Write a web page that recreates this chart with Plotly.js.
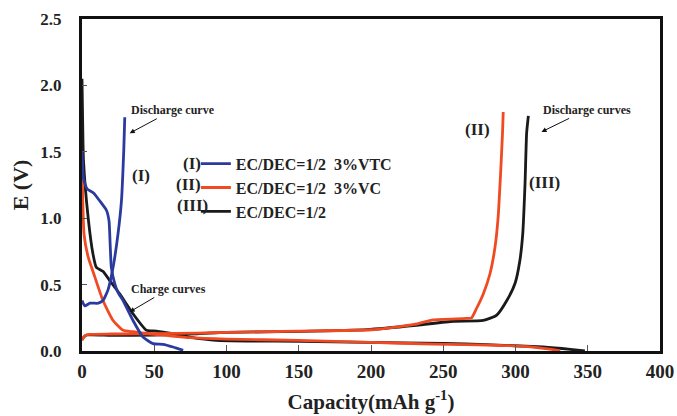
<!DOCTYPE html>
<html>
<head>
<meta charset="utf-8">
<script src="https://cdn.plot.ly/plotly-3.0.1.min.js"></script>
<style>html,body{margin:0;padding:0;background:#fff;}#chart{width:677px;height:416px;}</style>
</head>
<body>
<div id="chart"></div>
<script>
// ---- Data ----
// (I) EC/DEC=1/2 3%VTC
const capI_charge = [0, 1, 3.5, 8, 12.3, 16.9, 18.7, 19.5, 20.3, 22.6, 25, 28.4, 35.3, 42.2, 49.2, 56, 63, 70];
const eI_charge   = [1.50, 1.30, 1.22, 1.19, 1.13, 1.06, 0.98, 0.80, 0.63, 0.51, 0.44, 0.38, 0.23, 0.105, 0.055, 0.05, 0.03, 0.005];
const capI_dis = [0, 1.9, 5.5, 11.3, 14.5, 18, 21.5, 24.9, 27.3, 28.9, 29.6];
const eI_dis   = [0.38, 0.34, 0.36, 0.36, 0.38, 0.46, 0.63, 0.88, 1.13, 1.51, 1.76];

// (II) EC/DEC=1/2 3%VC
const capII_charge = [0, 1.4, 4.2, 8.8, 14.5, 21.5, 28.4, 35.3, 46.9, 60, 75, 100, 150, 200, 243, 289, 312, 325, 331];
const eII_charge   = [1.43, 0.88, 0.71, 0.56, 0.38, 0.23, 0.156, 0.145, 0.13, 0.115, 0.10, 0.09, 0.08, 0.065, 0.052, 0.043, 0.03, 0.012, 0];
const capII_dis = [0, 2, 5, 20, 50, 80, 100, 150, 200, 230, 243, 266, 269.6, 273, 277.7, 282.3, 285.8, 288, 289.7, 291, 291.5];
const eII_dis   = [0.08, 0.115, 0.125, 0.128, 0.13, 0.135, 0.14, 0.15, 0.16, 0.2, 0.235, 0.245, 0.25, 0.32, 0.43, 0.58, 0.78, 1.01, 1.34, 1.64, 1.80];

// (III) EC/DEC=1/2
const capIII_charge = [0, 0.5, 1, 4.2, 7.6, 9.9, 14.5, 19.2, 26.1, 35.3, 44.6, 51.5, 63, 74.6, 93, 116, 151, 197, 250, 280, 319, 338, 348];
const eIII_charge   = [2.05, 1.7, 1.44, 1.01, 0.73, 0.63, 0.60, 0.53, 0.43, 0.28, 0.156, 0.15, 0.13, 0.105, 0.08, 0.075, 0.073, 0.065, 0.057, 0.048, 0.03, 0.012, 0];
const capIII_dis = [0, 3.2, 20, 50, 80, 100, 151, 197, 231.6, 257, 277.7, 287, 294, 299.7, 303, 305, 306.6, 307.7, 308.9];
const eIII_dis   = [0.09, 0.12, 0.118, 0.12, 0.13, 0.14, 0.148, 0.161, 0.194, 0.224, 0.23, 0.27, 0.38, 0.51, 0.68, 0.88, 1.26, 1.64, 1.77];

const seriesNames = ['EC/DEC=1/2\u00a0\u00a03%VTC', 'EC/DEC=1/2\u00a0\u00a03%VC', 'EC/DEC=1/2'];
const seriesTags = ['(I)', '(II)', '(III)'];
const xTicks = [0, 50, 100, 150, 200, 250, 300, 350, 400];
const yTicks = [0.0, 0.5, 1.0, 1.5, 2.0, 2.5];

// ---- Styling ----
const colors = ['#2b3a9e', '#f04a22', '#1a1a1a'];
const serif = 'Times New Roman, Liberation Serif, serif';
const lw = 2.8;

function tr(x, y, i, show, rank) {
  return {x: x, y: y, type: 'scatter', mode: 'lines', name: seriesNames[i],
    legendgroup: 'g' + i, showlegend: show, legendrank: rank,
    line: {color: colors[i], width: lw, shape: 'spline', smoothing: 0.5}};
}

const data = [
  tr(capIII_charge, eIII_charge, 2, true, 3),
  tr(capIII_dis, eIII_dis, 2, false, 3),
  tr(capII_charge, eII_charge, 1, true, 2),
  tr(capII_dis, eII_dis, 1, false, 2),
  tr(capI_charge, eI_charge, 0, true, 1),
  tr(capI_dis, eI_dis, 0, false, 1),
];

const annFont = {family: serif, size: 12, color: '#222', weight: 'bold'};
const tagFont = {family: serif, size: 17, color: '#222', weight: 'bold'};
const arrowStyle = {showarrow: true, arrowhead: 2, arrowsize: 1, arrowwidth: 1, arrowcolor: '#111', standoff: 0, font: annFont};

const annotations = [
  Object.assign({x: 33, y: 1.64, text: 'Discharge curve', ax: 43, ay: -23}, arrowStyle),
  Object.assign({x: 33, y: 0.294, text: 'Charge curves', ax: 39, ay: -23}, arrowStyle),
  Object.assign({x: 318, y: 1.65, text: 'Discharge curves', ax: 45, ay: -22}, arrowStyle),
  {x: 41, y: 1.318, text: seriesTags[0], showarrow: false, font: tagFont},
  {x: 273.7, y: 1.67, text: seriesTags[1], showarrow: false, font: tagFont},
  {x: 320, y: 1.27, text: seriesTags[2], showarrow: false, font: tagFont},
  {x: 83.6, y: 1.413, text: seriesTags[0], showarrow: false, xanchor: 'right', font: tagFont},
  {x: 83.6, y: 1.255, text: seriesTags[1], showarrow: false, xanchor: 'right', font: tagFont},
  {x: 88.4, y: 1.097, text: seriesTags[2], showarrow: false, xanchor: 'right', font: tagFont},
];

const layout = {
  width: 677, height: 416,
  margin: {l: 82, r: 17, t: 19, b: 65},
  paper_bgcolor: '#fff', plot_bgcolor: '#fff',
  showlegend: true,
  legend: {x: 0.197, y: 0.615, xanchor: 'left', yanchor: 'top', bgcolor: 'rgba(0,0,0,0)',
    font: {family: serif, size: 16, color: '#222', weight: 'bold'}, tracegroupgap: 0},
  xaxis: {range: [0, 400], tickvals: xTicks, ticktext: xTicks.map(String),
    ticks: 'inside', ticklen: 6, tickcolor: '#555', tickwidth: 1,
    showline: true, linecolor: '#111', linewidth: 3, mirror: true,
    showgrid: false, zeroline: false, ticklabelstandoff: 1,
    tickfont: {family: serif, size: 19, color: '#222', weight: 'bold'},
    title: {text: 'Capacity(mAh g<sup>-1</sup>)', standoff: 14,
      font: {family: serif, size: 21, color: '#222', weight: 'bold'}}},
  yaxis: {range: [0, 2.5], tickvals: yTicks, ticktext: yTicks.map(v => v.toFixed(1)),
    ticks: 'inside', ticklen: 5, tickcolor: '#555', tickwidth: 1,
    showline: true, linecolor: '#111', linewidth: 3, mirror: true,
    showgrid: false, zeroline: false, ticklabelstandoff: 14,
    tickfont: {family: serif, size: 17, color: '#222', weight: 'bold'},
    title: {text: 'E (V)', standoff: 6,
      font: {family: serif, size: 22, color: '#222', weight: 'bold'}}},
  annotations: annotations
};

Plotly.newPlot('chart', data, layout, {displayModeBar: false, staticPlot: true});
</script>
</body>
</html>
